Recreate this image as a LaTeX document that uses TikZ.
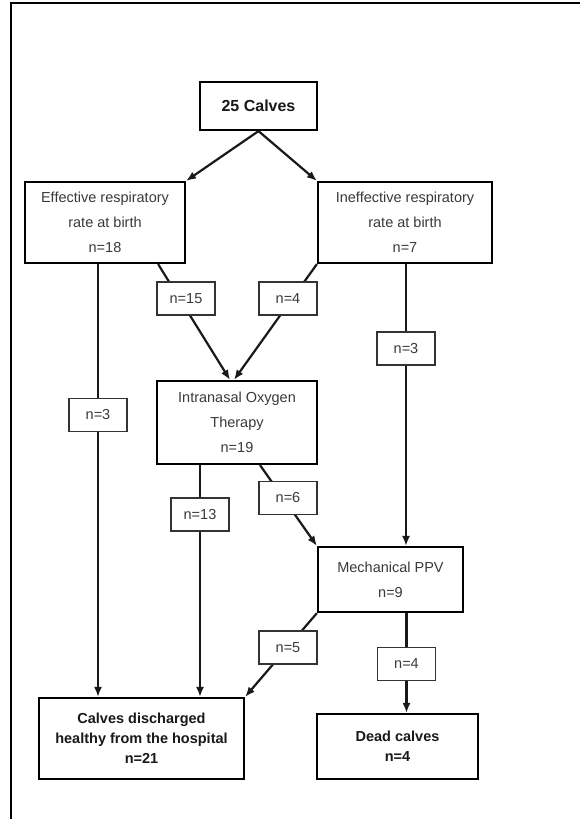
\documentclass[tikz,border=0pt]{standalone}
\usepackage{fontspec}
\setmainfont{Liberation Sans}
\usetikzlibrary{arrows.meta,calc}
\definecolor{txtgray}{HTML}{3A3A3A}
\begin{document}
\begin{tikzpicture}[x=1pt,y=-1pt,
  mainbox/.style={draw=black,line width=2.2pt,fill=white,inner sep=0pt,align=center,
    text=txtgray,font=\fontsize{14.5}{25}\selectfont},
  boldbox/.style={mainbox,text=black!90,font=\fontsize{14.5}{20}\selectfont\bfseries},
  lbl/.style={draw=black!80,line width=1.5pt,fill=white,inner sep=0pt,
    minimum width=58pt,minimum height=33pt,text=txtgray,font=\fontsize{14.5}{17}\selectfont},
  conn/.style={line width=2.2pt,draw=black!90},
  arr/.style={conn,-{Latex[length=10pt,width=8pt]}}]
\useasboundingbox (0,0) rectangle (580,819);
\begin{scope}
\clip (0,0) rectangle (580,819);
\draw[line width=1.8pt] (11,830) -- (11,3) -- (590,3);
\end{scope}
% main boxes
\node[boldbox,minimum width=117pt,minimum height=48pt,font=\fontsize{16}{20}\selectfont\bfseries] (calves) at (258.5,106) {25 Calves};
\node[mainbox,minimum width=160pt,minimum height=81pt] (eff) at (105,222.5) {Effective respiratory\\rate at birth\\n=18};
\node[mainbox,minimum width=174pt,minimum height=81pt] (ineff) at (405,222.5) {Ineffective respiratory\\rate at birth\\n=7};
\node[mainbox,minimum width=160pt,minimum height=83pt] (iot) at (237,422.5) {Intranasal Oxygen\\Therapy\\n=19};
\node[mainbox,minimum width=145pt,minimum height=65pt] (ppv) at (390.5,579.5) {Mechanical PPV\\n=9};
\node[boldbox,minimum width=205pt,minimum height=81pt] (dis) at (141.5,738.5) {Calves discharged\\healthy from the hospital\\n=21};
\node[boldbox,minimum width=161pt,minimum height=65pt] (dead) at (397.5,746.5) {Dead calves\\n=4};
% label positions (drawn later on top)
\coordinate (l15c) at (186,298.5);
\coordinate (l4ac) at (288,298.5);
\coordinate (l3ac) at (98,415);
\coordinate (l3bc) at (406,348.5);
\coordinate (l13c) at (200,514.5);
\coordinate (l6c) at (288,498);
\coordinate (l5c) at (288,647.5);
\coordinate (l4bc) at (406.5,664);
% connectors
\draw[arr] (calves.south) -- (eff.north east);
\draw[arr] (calves.south) -- (ineff.north west);
\draw[arr] ([xshift=-28pt]eff.south east) -- ([xshift=-7pt]iot.north);
\draw[arr] (ineff.south west) -- ([xshift=-3pt]iot.north);
\draw[arr] (eff.south -| l3ac) -- (dis.north -| l3ac);
\draw[arr] (ineff.south -| l3bc) -- (ppv.north -| l3bc);
\draw[arr] (iot.south -| l13c) -- (dis.north -| l13c);
\draw[arr] ([xshift=23pt]iot.south) -- (ppv.north west);
\draw[arr] (ppv.south west) -- (dis.north east);
\draw[arr] (ppv.south -| l4bc) -- (dead.north -| l4bc);
% labels
\node[lbl] (l15) at (l15c) {n=15};
\node[lbl] (l4a) at (l4ac) {n=4};
\node[lbl] (l3a) at (l3ac) {n=3};
\node[lbl] (l3b) at (l3bc) {n=3};
\node[lbl] (l13) at (l13c) {n=13};
\node[lbl] (l6) at (l6c) {n=6};
\node[lbl] (l5) at (l5c) {n=5};
\node[lbl] (l4b) at (l4bc) {n=4};
\end{tikzpicture}
\end{document}
